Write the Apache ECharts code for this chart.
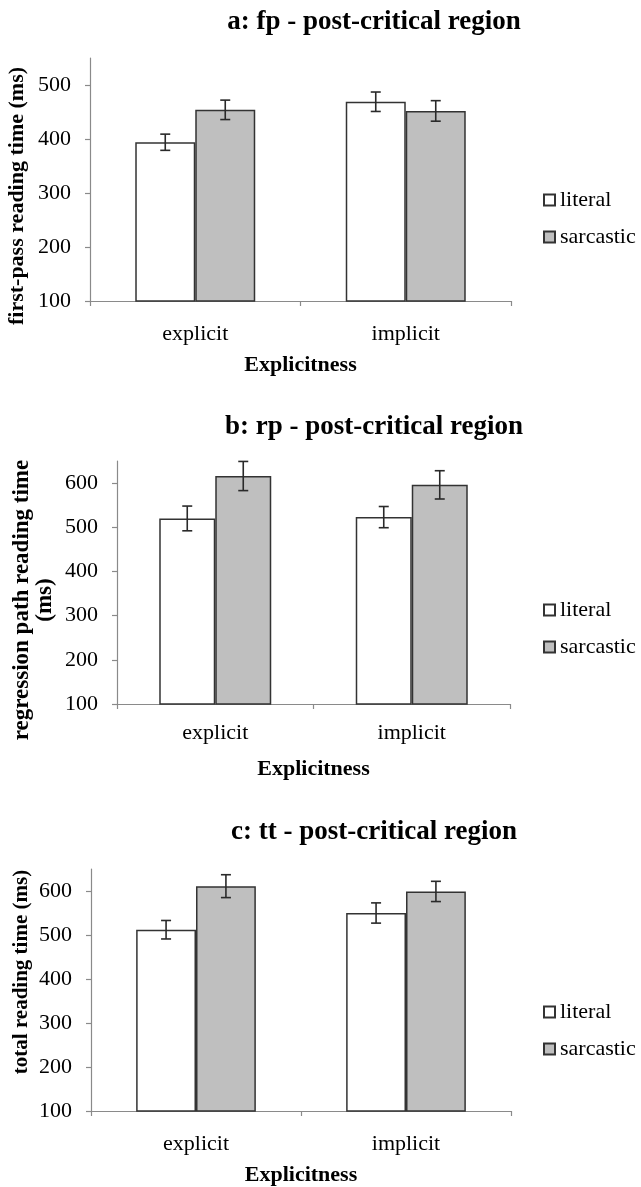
<!DOCTYPE html>
<html><head><meta charset="utf-8">
<script src="https://cdn.jsdelivr.net/npm/echarts@6/dist/echarts.min.js"></script>
<style>html,body{margin:0;padding:0;background:#fff}#c{width:641px;height:1187px}</style>
</head><body><div id="c"></div>
<script>
// ---- data ----
const categories = ['explicit', 'implicit'];
const seriesNames = ['literal', 'sarcastic'];
const panelTitles = ['a: fp - post-critical region', 'b: rp - post-critical region', 'c: tt - post-critical region'];
const yAxisTitles = ['first-pass reading time (ms)', 'regression path reading time\n(ms)', 'total reading time (ms)'];
const xAxisTitle = 'Explicitness';

const fpLiteral = [394, 469];
const fpLiteralErr = [15, 18];
const fpSarcastic = [454, 452];
const fpSarcasticErr = [18, 19];

const rpLiteral = [520, 523];
const rpLiteralErr = [28, 24];
const rpSarcastic = [616, 596];
const rpSarcasticErr = [33, 32];

const ttLiteral = [512, 550];
const ttLiteralErr = [21, 23];
const ttSarcastic = [611, 599];
const ttSarcasticErr = [26, 23];

const yTicksA = [100, 200, 300, 400, 500];
const yTicksBC = [100, 200, 300, 400, 500, 600];

// ---- layout / style ----
const SERIF = '"Liberation Serif", "Times New Roman", serif';
const AXIS_GRAY = '#8a8a8a';
const panels = [
  { grid: { left: 90, top: 58, width: 421, height: 243 }, max: 550, ticks: yTicksA,
    lit: fpLiteral, litErr: fpLiteralErr, sar: fpSarcastic, sarErr: fpSarcasticErr,
    titleTop: 4, legendTop: 189, labelMargin: 22, nameGap: 53, yTitle: [17, 196], yTitleSize: 22 },
  { grid: { left: 117, top: 461, width: 393, height: 243 }, max: 650, ticks: yTicksBC,
    lit: rpLiteral, litErr: rpLiteralErr, sar: rpSarcastic, sarErr: rpSarcasticErr,
    titleTop: 409, legendTop: 599, labelMargin: 18, nameGap: 54, yTitle: [34, 600], yTitleSize: 23 },
  { grid: { left: 91, top: 869, width: 420, height: 244 }, max: 650, ticks: yTicksBC,
    lit: ttLiteral, litErr: ttLiteralErr, sar: ttSarcastic, sarErr: ttSarcasticErr,
    titleTop: 814, legendTop: 1001, labelMargin: 22, nameGap: 53, yTitle: [22, 972], yTitleSize: 21 }
];

const BAR_FRAC = 0.285;
function errSeries(name, idx, vals, errs, offset) {
  return {
    type: 'custom', name: name, xAxisIndex: idx, yAxisIndex: idx, z: 10,
    data: vals.map((v, i) => [i, v, errs[i]]),
    renderItem: function (params, api) {
      const c = api.value(0), v = api.value(1), e = api.value(2);
      const bw = api.size([1, 0])[0];
      const x = api.coord([c, v])[0] + offset * bw * BAR_FRAC;
      const yt = api.coord([c, v + e])[1];
      const yb = api.coord([c, v - e])[1];
      const cap = 5;
      const st = { stroke: '#2a2a2a', lineWidth: 1.6 };
      return { type: 'group', children: [
        { type: 'line', shape: { x1: x, y1: yt, x2: x, y2: yb }, style: st },
        { type: 'line', shape: { x1: x - cap, y1: yt, x2: x + cap, y2: yt }, style: st },
        { type: 'line', shape: { x1: x - cap, y1: yb, x2: x + cap, y2: yb }, style: st }
      ] };
    }
  };
}

const option = {
  backgroundColor: '#fff',
  animation: false,
  title: panels.map((p, i) => ({
    text: panelTitles[i], left: 369, textAlign: 'center', top: p.titleTop,
    textStyle: { fontFamily: SERIF, fontWeight: 'bold', fontSize: 27, color: '#000' }
  })),
  legend: panels.map((p, i) => ({
    data: seriesNames, orient: 'vertical', left: 543, top: p.legendTop,
    itemWidth: 11, itemHeight: 11, itemGap: 15, padding: 0, selectedMode: false,
    icon: 'rect',
    textStyle: { fontFamily: SERIF, fontSize: 22, color: '#000', padding: [0, 0, 0, 0] }
  })),
  grid: panels.map(p => p.grid),
  xAxis: panels.map((p, i) => ({
    type: 'category', gridIndex: i, data: categories,
    name: xAxisTitle, nameLocation: 'middle', nameGap: p.nameGap,
    nameTextStyle: { fontFamily: SERIF, fontWeight: 'bold', fontSize: 22, color: '#000' },
    axisLine: { lineStyle: { color: AXIS_GRAY, width: 1.2 } },
    axisTick: { show: true, length: 5, lineStyle: { color: AXIS_GRAY, width: 1.2 } },
    axisLabel: { fontFamily: SERIF, fontSize: 22, color: '#000', margin: p.labelMargin },
    splitLine: { show: false }
  })),
  yAxis: panels.map((p, i) => ({
    type: 'value', gridIndex: i, min: 100, max: p.max, interval: 100,
    axisLine: { show: true, lineStyle: { color: AXIS_GRAY, width: 1.2 } },
    axisTick: { show: true, length: 5, customValues: p.ticks, lineStyle: { color: AXIS_GRAY, width: 1.2 } },
    axisLabel: { fontFamily: SERIF, fontSize: 22, color: '#000', margin: 19, customValues: p.ticks },
    splitLine: { show: false }
  })),
  graphic: panels.map((p, i) => ({
    type: 'text', x: p.yTitle[0], y: p.yTitle[1], rotation: Math.PI / 2,
    style: { text: yAxisTitles[i], fontFamily: SERIF, fontWeight: 'bold', fontSize: p.yTitleSize,
      lineHeight: 23, fill: '#000', align: 'center', verticalAlign: 'middle' }
  })),
  series: []
};

panels.forEach((p, i) => {
  option.series.push({
    type: 'bar', name: seriesNames[0], xAxisIndex: i, yAxisIndex: i, data: p.lit,
    barWidth: (BAR_FRAC * 100) + '%', barGap: '0%',
    itemStyle: { color: '#ffffff', borderColor: '#333', borderWidth: 1.5 }
  });
  option.series.push({
    type: 'bar', name: seriesNames[1], xAxisIndex: i, yAxisIndex: i, data: p.sar,
    barWidth: (BAR_FRAC * 100) + '%', barGap: '0%',
    itemStyle: { color: '#bfbfbf', borderColor: '#333', borderWidth: 1.5 }
  });
  option.series.push(errSeries(seriesNames[0] + ' error', i, p.lit, p.litErr, -0.5));
  option.series.push(errSeries(seriesNames[1] + ' error', i, p.sar, p.sarErr, 0.5));
});

const chart = echarts.init(document.getElementById('c'), null, { renderer: 'canvas' });
chart.setOption(option);
</script>
</body></html>
